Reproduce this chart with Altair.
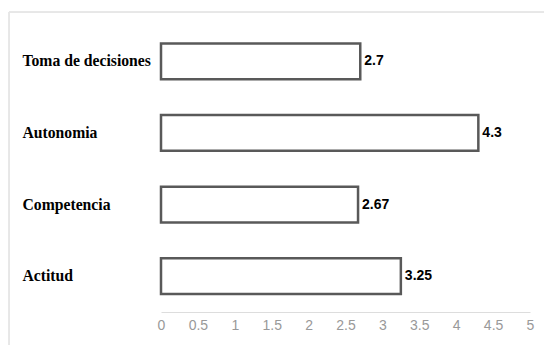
import altair as alt
import pandas as pd

categories = ["Toma de decisiones", "Autonomia", "Competencia", "Actitud"]
values = [2.7, 4.3, 2.67, 3.25]
labels = ["2.7", "4.3", "2.67", "3.25"]
tick_values = [0, 0.5, 1, 1.5, 2, 2.5, 3, 3.5, 4, 4.5, 5]

df = pd.DataFrame({"cat": categories, "val": values, "lab": labels})

y_enc = alt.Y("cat:N", sort=categories,
              scale=alt.Scale(paddingInner=0.5, paddingOuter=0.25),
              axis=alt.Axis(title=None, domain=False, ticks=False, tickSize=0,
                            labelAlign="left", labelPadding=139,
                            labelFont="Liberation Serif", labelFontWeight="bold",
                            labelFontSize=15.7, labelColor="#000000"))
x_enc = alt.X("val:Q", scale=alt.Scale(domain=[0, 5], nice=False),
              axis=alt.Axis(title=None, grid=False, ticks=False, tickSize=0,
                            values=tick_values, format="~g",
                            labelFlush=False, labelOverlap=False,
                            domainColor="#dddddd", labelColor="#999999",
                            labelFont="Liberation Sans", labelFontSize=14,
                            labelPadding=6))

base = alt.Chart(df)

bars = base.mark_bar(fill="white", stroke="#595959", strokeWidth=2.5).encode(
    x=x_enc, y=y_enc)

text = base.mark_text(align="left", baseline="middle", dx=4, font="Liberation Sans",
                      fontWeight="bold", fontSize=14, color="#000000").encode(
    x=x_enc, y=y_enc, text="lab:N")

frame_top = alt.Chart(df).mark_rule(color="#e6e6e6", strokeWidth=1).encode(
    x=alt.value(-152), x2=alt.value(400), y=alt.value(-13.5))
frame_left = alt.Chart(df).mark_rule(color="#e6e6e6", strokeWidth=1).encode(
    x=alt.value(-152), y=alt.value(-13.5), y2=alt.value(340))

chart = alt.layer(frame_top, frame_left, bars, text).properties(
    width=369, height=286.5,
    autosize=alt.AutoSizeParams(type="none"),
    padding={"left": 161, "top": 25.5, "right": 14, "bottom": 33},
).configure_view(stroke=None)

chart.save("out.html", embed_options={"renderer": "svg", "actions": False})
